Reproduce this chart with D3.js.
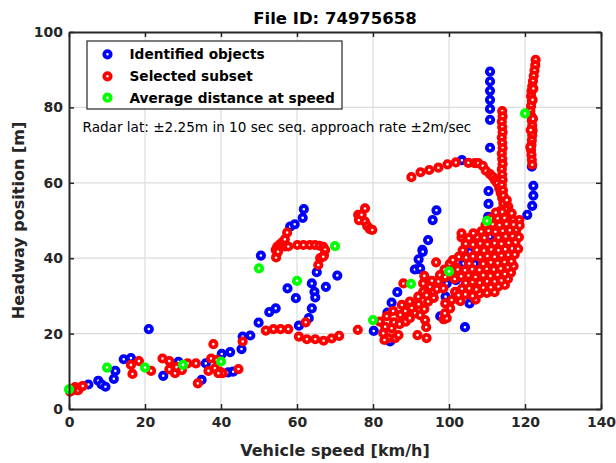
<!DOCTYPE html>
<html>
<head>
<meta charset="utf-8">
<script src="https://cdn.jsdelivr.net/npm/d3@7"></script>
<style>
html,body{margin:0;padding:0;background:#fff;}
svg{display:block;}
text{font-family:"DejaVu Sans",sans-serif;}
</style>
</head>
<body>
<svg id="chart" width="616" height="463"></svg>
<script>
// ---------- DATA ----------
const titleText = "File ID: 74975658";
const xLabel = "Vehicle speed [km/h]";
const yLabel = "Headway position [m]";
const noteText = "Radar lat: \u00b12.25m in 10 sec seq. approach rate \u00b12m/sec";
const seriesNames = ["Identified objects", "Selected subset", "Average distance at speed"];
const seriesColors = ["#0000ff", "#ff0000", "#00ff00"];
const xTicks = [0, 20, 40, 60, 80, 100, 120, 140];
const yTicks = [0, 20, 40, 60, 80, 100];

// [speed km/h, headway m]
const identified = [
 [5.1,6.5],[7.7,7.5],[8.6,6.5],[9.6,5.9],[11.8,8.0],[12.2,10.1],[14.4,13.2],[16.3,13.5],[21.0,21.2],
 [24.8,8.8],[28.8,12.5],[36.0,12.1],[34.9,7.7],[40.2,14.6],[42.4,15.1],[41.9,9.7],[43.2,9.9],
 [45.4,15.9],[45.7,19.2],[47.7,19.5],[49.9,22.9],[52.7,25.7],[54.4,26.7],[57.5,32.0],[59.7,29.4],
 [60.5,22.1],[63.1,24.1],[63.9,26.7],[64.6,31.1],[64.8,29.6],[63.9,33.3],[65.2,36.3],[67.6,32.4],
 [70.6,35.4],[50.5,40.7],[58.2,48.4],[59.4,49.0],[61.5,50.7],[61.8,53.0],
 [110.8,89.5],[110.8,86.9],[110.8,84.4],[110.8,82.0],[110.8,79.6],[110.8,76.7],[110.8,69.3],
 [110.4,57.8],[110.4,54.4],[110.3,51.0],[110.3,45.3],[110.8,45.7],[96.7,52.7],[95.7,50.1],
 [94.5,44.8],[93.0,42.2],[92.0,39.7],[91.7,37.1],[91.0,37.0],[93.1,41.7],[92.4,37.3],
 [86.4,31.0],[84.9,28.2],[83.8,25.6],[80.2,20.7],[84.5,17.9],[104.2,21.7],[97.7,24.6],
 [99.1,29.8],[99.4,33.3],[103.8,38.6],[106.8,38.5],[105.5,41.7],[105.4,28.0],[101.8,34.2],
 [122.2,59.2],[122.2,56.6],[121.9,53.9],[120.6,51.5],[121.8,64.3],[103.4,66.0]
];

const selected = [
 // low speed
 [0.3,4.6],[0.7,5.2],[1.6,5.8],[2.0,5.0],[2.4,5.0],[3.3,5.9],[3.6,6.1],
 [16.3,11.7],[16.7,9.3],[18.4,12.7],[21.6,10.1],
 [24.6,13.4],[26.4,12.7],[26.4,10.5],[27.9,9.5],[28.3,11.1],[29.7,10.3],[31.2,12.1],[33.4,12.1],[33.9,6.8],
 [36.7,10.1],[37.4,13.4],[38.0,17.2],[38.4,10.8],[39.7,9.9],[40.4,9.5],[39.3,9.5],[38.9,13.0],[44.6,10.6],[45.7,17.9],
 [51.8,20.8],[53.8,21.2],[55.7,21.2],[57.7,21.2],
 [60.5,19.2],[62.6,18.5],[64.8,18.5],[67.0,18.1],[69.1,18.7],[71.1,19.4],[62.3,23.0],[76.0,21.0],
 // arc around 55-67 km/h
 [54.5,40.2],[54.4,42.2],[54.8,43.1],[55.5,43.7],[56.1,44.2],[56.8,45.0],[57.4,46.8],[56.8,43.1],[57.7,43.1],
 [60.1,43.5],[61.7,43.5],[63.4,43.5],[64.7,43.5],[65.9,43.3],[66.9,43.0],[67.4,42.2],[67.1,40.8],
 [66.1,40.0],[65.6,38.2],[66.9,40.4],[55.0,41.7],
 // cluster near 77 km/h
 [76.1,51.5],[76.3,50.1],[77.0,51.5],[77.9,53.2],[77.9,49.7],[78.5,48.5],[79.2,47.7],[79.8,47.5],
 // upper arc
 [90.1,61.5],[92.5,62.8],[94.8,63.4],[97.2,64.0],[99.6,64.9],[101.8,65.4],[105.1,65.3],[106.8,65.2],
 [107.7,65.2],[108.9,64.5],[109.7,63.2],[110.8,62.3],[111.5,61.6],[112.1,60.7],[112.7,59.9],
 [113.2,58.6],[113.6,57.3],[114.0,56.0],
 // column near 114 km/h
 [114.0,79.0],[114.1,77.6],[113.9,76.2],[114.0,74.8],[114.1,73.4],[113.9,72.0],[114.0,70.6],[114.1,69.2],
 [113.9,67.8],[114.0,66.4],[114.1,65.0],[113.9,63.6],[114.0,62.2],[114.1,60.8],[113.9,59.4],[114.2,58.0],
 [114.3,56.6],[114.3,54.6],[115.2,55.4],[115.6,53.7],[116.5,51.9],[116.9,50.1],[118.5,50.1],[114.9,53.0],[113.5,52.5],
 // column near 122 km/h
 [122.8,92.6],[122.7,91.2],[122.5,89.8],[122.3,88.4],[122.1,87.0],[121.9,85.6],[121.7,84.3],[121.6,83.0],
 [121.8,81.7],[121.6,80.4],[121.4,79.1],[121.6,77.8],[121.8,76.5],[121.9,75.2],[122.0,73.9],[121.9,72.6],
 [121.8,71.3],[121.7,70.0],[121.6,68.7],[121.7,67.4],[121.8,66.1],[121.9,64.8],[122.1,77.0],[122.0,82.0],
 [122.2,85.0],[121.5,74.0],[121.4,69.5],
 // arm 80-100 km/h
 [81.8,23.2],[82.7,20.1],[83.2,21.8],[84.0,18.8],[85.8,18.8],[86.7,19.6],[84.9,21.4],[83.0,18.3],[83.6,24.6],
 [85.3,26.0],[87.6,27.6],[89.7,28.5],[91.9,29.8],[93.2,31.1],[95.0,32.4],[85.5,23.0],[87.0,22.5],[87.2,25.0],
 [88.6,23.2],[89.7,24.1],[91.1,25.4],[92.4,24.9],[90.2,26.8],[88.5,26.0],[91.7,19.6],[94.1,18.8],[94.0,21.7],
 [93.7,23.6],[93.5,26.5],[92.0,27.8],[94.5,28.5],[96.0,29.5],[94.1,30.2],[95.9,31.1],[88.0,33.3],[93.5,35.3],
 [93.2,33.3],[97.6,35.5],[97.2,33.8],[96.6,38.9],[95.5,34.0],[96.8,31.8],
 // lobe near 100 km/h
 [98.6,23.8],[99.4,24.1],[98.9,25.4],[100.3,26.7],[100.7,28.9],[101.6,31.1],[99.0,28.0],[98.5,32.0],
 [99.0,35.0],[100.5,36.5],[98.8,37.0],[100.2,38.5],[101.0,39.5],[102.0,37.5],[101.5,34.5],
 // main blob
 [103.0,28.6],[107.0,29.0],
 [102.5,30.2],[104.3,30.4],[106.2,30.0],[108.0,30.6],[110.0,30.8],[112.0,31.0],
 [103.4,31.9],[105.3,32.0],[107.2,31.7],[109.0,32.2],[111.0,32.3],[113.0,32.5],[114.7,32.9],
 [104.4,33.4],[106.2,33.7],[108.1,33.5],[110.0,33.9],[112.0,33.8],[113.8,34.1],[115.5,34.5],
 [103.2,35.2],[105.1,35.4],[107.0,35.0],[109.0,35.5],[110.9,35.3],[112.8,35.6],[114.7,35.8],[116.3,36.2],
 [102.3,37.0],[104.2,36.8],[106.1,37.1],[108.0,36.9],[109.9,37.2],[111.8,37.0],[113.6,37.3],[115.5,37.6],[117.0,37.9],
 [105.3,38.6],[109.0,38.5],[111.0,38.9],[112.8,38.7],[114.6,39.0],[116.4,39.2],
 [102.6,40.4],[104.5,40.2],[106.3,40.5],[108.2,40.3],[110.1,40.6],[112.0,40.4],[113.8,40.7],[115.6,40.9],[117.3,41.0],
 [103.6,42.1],[107.3,42.2],[109.2,42.0],[111.1,42.3],[113.0,42.1],[114.8,42.4],[116.6,42.6],[118.2,42.5],
 [104.4,43.8],[106.3,43.6],[108.2,43.9],[110.1,43.7],[112.0,44.0],[113.8,43.8],[115.7,44.1],[117.5,44.2],
 [103.3,45.5],[105.2,45.3],[107.4,45.6],[109.3,45.4],[113.0,45.5],[114.9,45.8],[116.7,45.9],[118.4,45.6],
 [103.3,46.6],[106.4,46.6],[108.5,47.1],[110.4,47.3],[112.2,47.0],[114.1,47.3],[116.0,47.4],[117.7,47.6],
 [109.6,48.8],[111.5,49.0],[113.3,48.8],[115.1,49.1],[117.0,48.9],[118.6,48.7],
 [111.0,50.5],[112.8,50.6],[114.6,50.7],[112.3,52.1],[114.0,52.3]
];

const averages = [
 [0,5.2],[10,11.0],[20,11.0],[30,11.7],[40,12.6],[50,37.3],[60,34.0],[70,43.2],
 [80,23.6],[90,33.2],[100,36.5],[110,49.9],[120,78.4]
];

// ---------- LAYOUT ----------
const svg = d3.select("#chart");
const L = 69, R = 601, T = 32, B = 409;
const x = d3.scaleLinear().domain([0, 140]).range([L, R]);
const y = d3.scaleLinear().domain([0, 100]).range([B, T]);
const axisColor = "#262626";
const mR = 3.2, mW = 3.8;

// grid
const grid = svg.append("g");
grid.selectAll("line.gx").data(xTicks.slice(1, -1)).join("line")
  .attr("x1", d => x(d)).attr("x2", d => x(d)).attr("y1", T).attr("y2", B)
  .attr("stroke", "#dcdcdc").attr("stroke-width", 1.2);
grid.selectAll("line.gy").data(yTicks.slice(1, -1)).join("line")
  .attr("y1", d => y(d)).attr("y2", d => y(d)).attr("x1", L).attr("x2", R)
  .attr("stroke", "#dcdcdc").attr("stroke-width", 1.2);

// markers
function drawSeries(data, color) {
  svg.append("g").selectAll("circle").data(data).join("circle")
    .attr("cx", d => x(d[0])).attr("cy", d => y(d[1]))
    .attr("r", mR).attr("fill", "#fff")
    .attr("stroke", color).attr("stroke-width", mW);
}
drawSeries(identified, seriesColors[0]);
drawSeries(selected, seriesColors[1]);
drawSeries(averages, seriesColors[2]);

// axes
function styleAxis(g) {
  g.select(".domain").attr("stroke", axisColor).attr("stroke-width", 2);
  g.selectAll(".tick line").attr("stroke", axisColor).attr("stroke-width", 1.5);
  g.selectAll(".tick text").attr("fill", axisColor)
    .style("font-family", "'DejaVu Sans',sans-serif").style("font-weight", "bold").style("font-size", "14px");
}
svg.append("g").attr("transform", `translate(0,${B})`)
  .call(d3.axisBottom(x).tickValues(xTicks).tickSize(-5).tickSizeOuter(0).tickPadding(8).tickFormat(d3.format("d")))
  .call(styleAxis);
svg.append("g").attr("transform", `translate(0,${T})`)
  .call(d3.axisTop(x).tickValues(xTicks).tickSize(-5).tickSizeOuter(0).tickFormat(""))
  .call(styleAxis);
svg.append("g").attr("transform", `translate(${L},0)`)
  .call(d3.axisLeft(y).tickValues(yTicks).tickSize(-5).tickSizeOuter(0).tickPadding(6).tickFormat(d3.format("d")))
  .call(styleAxis);
svg.append("g").attr("transform", `translate(${R},0)`)
  .call(d3.axisRight(y).tickValues(yTicks).tickSize(-5).tickSizeOuter(0).tickFormat(""))
  .call(styleAxis);

// title & labels
svg.append("text").attr("x", (L + R) / 2).attr("y", 24).attr("text-anchor", "middle")
  .attr("fill", "#000").style("font-weight", "bold").style("font-size", "16.5px").text(titleText);
svg.append("text").attr("x", (L + R) / 2).attr("y", 456).attr("text-anchor", "middle")
  .attr("fill", axisColor).style("font-weight", "bold").style("font-size", "16px").text(xLabel);
svg.append("text").attr("transform", `translate(24,${(T + B) / 2}) rotate(-90)`).attr("text-anchor", "middle")
  .attr("fill", axisColor).style("font-weight", "bold").style("font-size", "16px").text(yLabel);

// note
svg.append("text").attr("x", 82.5).attr("y", 132.3).attr("fill", "#000")
  .style("font-size", "13.6px").text(noteText);

// legend
const lg = svg.append("g");
lg.append("rect").attr("x", 87).attr("y", 41).attr("width", 255).attr("height", 68)
  .attr("fill", "#fff").attr("stroke", axisColor).attr("stroke-width", 1.2);
const rowY = [54.3, 76.3, 97.7];
seriesNames.forEach((name, i) => {
  lg.append("circle").attr("cx", 107.5).attr("cy", rowY[i]).attr("r", mR)
    .attr("fill", "#fff").attr("stroke", seriesColors[i]).attr("stroke-width", mW);
  lg.append("text").attr("x", 129.5).attr("y", rowY[i] + 5).attr("fill", "#000")
    .style("font-weight", "bold").style("font-size", "13.7px").text(name);
});
</script>
</body>
</html>
